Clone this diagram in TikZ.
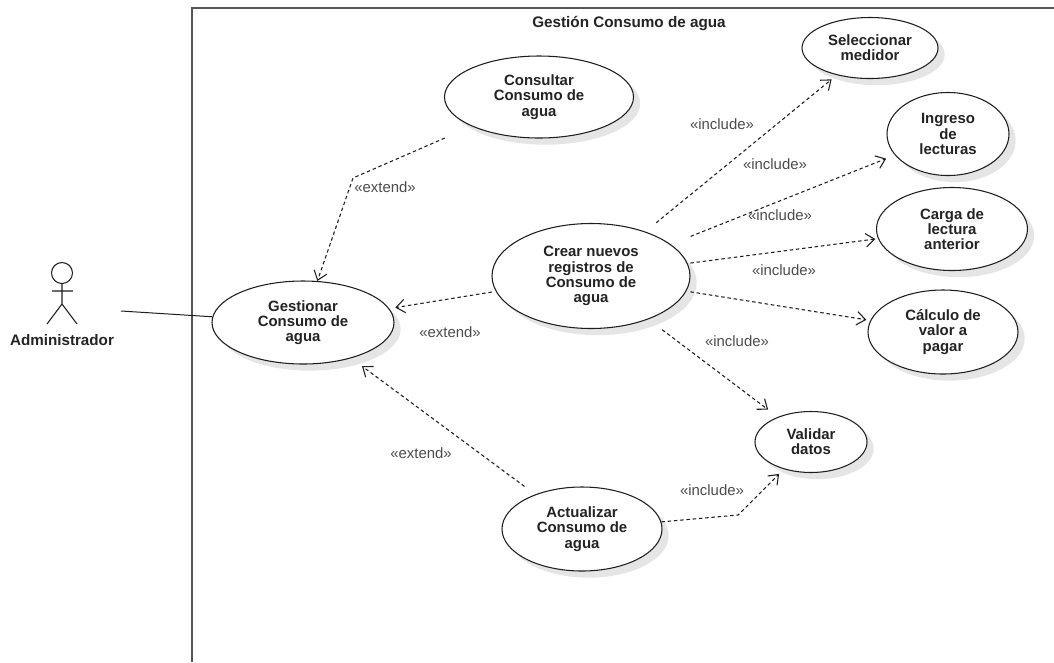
\documentclass[tikz,border=0pt]{standalone}
\usepackage{fontspec}
\setmainfont{Liberation Sans}
\usetikzlibrary{arrows.meta,shapes.geometric,shadows}
\definecolor{ucline}{RGB}{30,30,30}
\definecolor{ucframe}{RGB}{85,85,85}
\definecolor{uctext}{RGB}{35,35,35}
\definecolor{uclabel}{RGB}{75,75,75}
\tikzstyle{usecase} = [ellipse,draw=ucline,line width=0.8pt,fill=white,inner sep=0pt,align=center,
  font=\fontsize{11.2}{11.4}\selectfont\bfseries,text=uctext,
  drop shadow={shadow xshift=5pt,shadow yshift=-5pt,fill=black,opacity=0.1}]
\tikzstyle{dep} = [line width=0.8pt,ucline,dash pattern=on 2.6pt off 2.1pt,-{Straight Barb[length=6.5pt,width=10pt]}]
\tikzstyle{deplabel} = [font=\fontsize{11.2}{13}\selectfont,text=uclabel,inner sep=0pt]

\begin{document}
\begin{tikzpicture}[x=0.75pt,y=-0.75pt]
\useasboundingbox (0,0) rectangle (1054,662);
% System boundary
\draw[line width=1.1pt, ucframe] (192,662) -- (192,8) -- (1054,8);
\node[font=\fontsize{11.45}{13}\selectfont\bfseries, text=uctext, inner sep=0pt] (title) at (629,24) {Gestión Consumo de agua};

% Actor
\draw[line width=0.8pt, ucline] (62,273) circle (10.5);
\draw[line width=0.8pt, ucline] (62,283.5) -- (62,304) (52,291) -- (73,291) (47,324) -- (62,304) -- (77,324);
\node[font=\fontsize{11.4}{13}\selectfont\bfseries, text=uctext, inner sep=0pt] (admin) at (62,340) {Administrador};
\coordinate (adminend) at (121,311);

% Use cases
\node[usecase, minimum width=136.5pt, minimum height=62.25pt] (gestionar) at (303,322.5) {Gestionar\\Consumo de\\agua};
\node[usecase, minimum width=141.75pt, minimum height=61.5pt] (consultar) at (539,97) {Consultar\\Consumo de\\agua};
\node[usecase, minimum width=148.5pt, minimum height=78.75pt] (crear) at (591,276) {Crear nuevos\\registros de\\Consumo de\\agua};
\node[usecase, minimum width=120pt, minimum height=63pt] (actualizar) at (582,529) {Actualizar\\Consumo de\\agua};
\node[usecase, minimum width=102pt, minimum height=45.75pt] (seleccionar) at (870,48) {Seleccionar\\medidor};
\node[usecase, minimum width=91.5pt, minimum height=62.25pt] (ingreso) at (948,134) {Ingreso\\de\\lecturas};
\node[usecase, minimum width=113.25pt, minimum height=62.25pt] (carga) at (952,229) {Carga de\\lectura\\anterior};
\node[usecase, minimum width=112.5pt, minimum height=63pt] (calculo) at (943,332) {Cálculo de\\valor a\\pagar};
\node[usecase, minimum width=84pt, minimum height=45.75pt] (validar) at (811,442) {Validar\\datos};

% Bend points
\coordinate (bendconsultar) at (353,178);
\coordinate (bendactualizar) at (738,515);

% Actor association
\draw[line width=0.75pt, ucline] (adminend) -- (gestionar);

% Extend
\draw[dep, shorten <=22pt] (consultar) -- (bendconsultar) -- (gestionar);
\draw[dep, shorten <=3pt, shorten >=4.5pt] (crear) -- (gestionar);
\draw[dep, shorten <=10pt, shorten >=10pt] (actualizar) -- (gestionar);
\node[deplabel] (extenda) at (385,187) {«extend»};
\node[deplabel] (extendb) at (450,332) {«extend»};
\node[deplabel] (extendc) at (421,453) {«extend»};

% Include
\draw[dep, shorten <=10.5pt, shorten >=5pt] (crear) -- (seleccionar);
\draw[dep, shorten <=16pt, shorten >=7pt] (crear) -- (ingreso);
\draw[dep, shorten <=2pt, shorten >=2pt] (crear) -- (carga);
\draw[dep, shorten <=3pt, shorten >=3pt] (crear) -- (calculo);
\draw[dep, shorten <=13pt, shorten >=9pt] (crear) -- (validar);
\draw[dep, shorten >=5pt] (actualizar) -- (bendactualizar) -- (validar);
\node[deplabel] (includea) at (722,124) {«include»};
\node[deplabel] (includeb) at (775,164) {«include»};
\node[deplabel] (includec) at (780,215) {«include»};
\node[deplabel] (included) at (784,270) {«include»};
\node[deplabel] (includee) at (737,341) {«include»};
\node[deplabel] (includef) at (712,490) {«include»};
\end{tikzpicture}
\end{document}
